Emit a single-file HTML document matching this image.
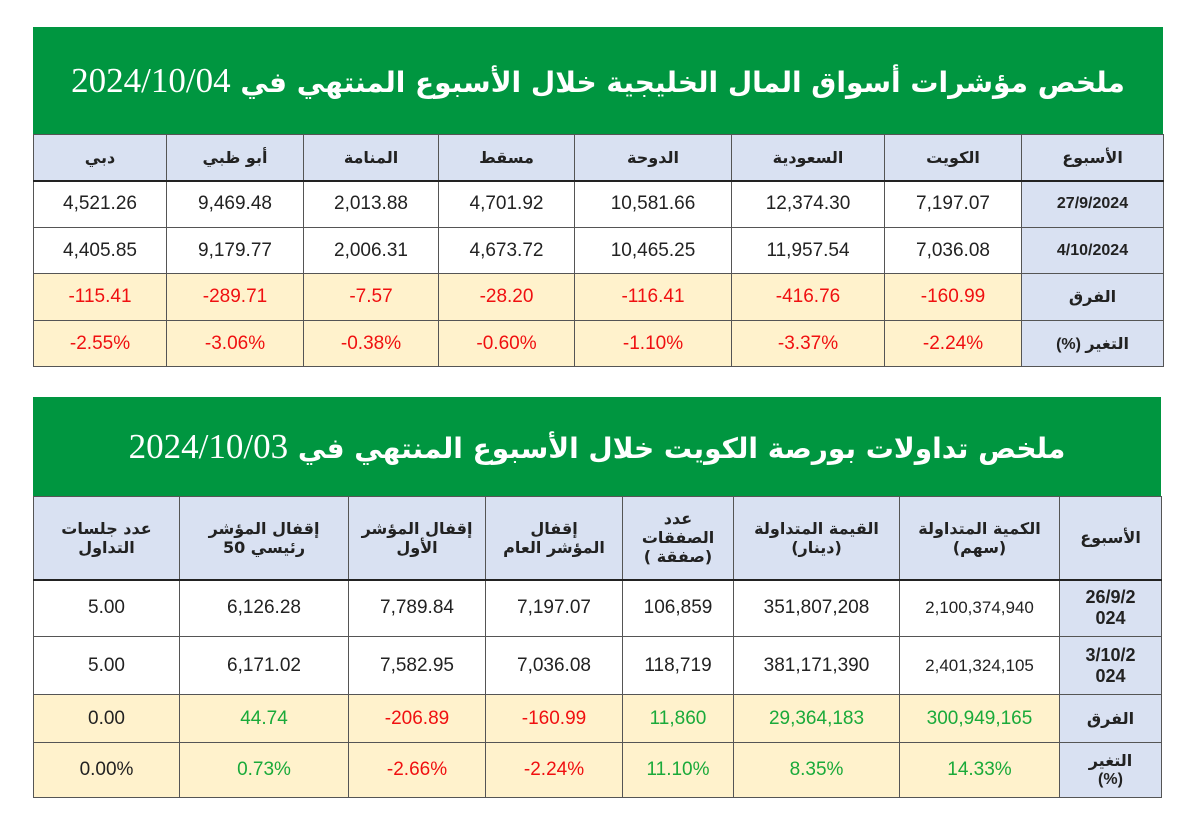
<!DOCTYPE html>
<html><head><meta charset="utf-8"><style>
body{margin:0;width:1200px;height:814px;background:#fff;position:relative;overflow:hidden;font-family:"Liberation Sans","Noto Sans CJK SC","DejaVu Sans",sans-serif}
.t{position:absolute;border-collapse:collapse;table-layout:fixed}
.t td{border:1.5px solid #555;text-align:center;padding:0;color:#222;font-size:19px}
.g{position:absolute;background:#009640;color:#fff;font-size:28px;font-weight:bold;text-align:center;white-space:nowrap;font-family:"DejaVu Sans",sans-serif}
.g span{font-family:"Liberation Serif",serif;font-weight:normal;font-size:35px}
.h td{background:#d9e1f2;font-size:16px;font-weight:bold;font-family:"DejaVu Sans",sans-serif;border-bottom:2.5px solid #222}
.y td{background:#fff2cc}
td.lab{background:#d9e1f2;font-weight:bold;font-size:16px}
.r{color:#f01010!important}.gr{color:#1aaa3a!important}
</style></head><body>
<div class="g" style="left:33px;top:27px;width:1130px;height:107px;line-height:107px" dir="rtl">ملخص مؤشرات أسواق المال الخليجية خلال الأسبوع المنتهي في <span>2024/10/04</span></div>
<table class="t" style="left:33px;top:134px;width:1130px">
<colgroup><col style="width:133px"><col style="width:137px"><col style="width:135px"><col style="width:136px"><col style="width:157px"><col style="width:153px"><col style="width:137px"><col style="width:142px"></colgroup>
<tr class="h" style="height:46px"><td>دبي</td><td>أبو ظبي</td><td>المنامة</td><td>مسقط</td><td>الدوحة</td><td>السعودية</td><td>الكويت</td><td>الأسبوع</td></tr>
<tr style="height:47px"><td>4,521.26</td><td>9,469.48</td><td>2,013.88</td><td>4,701.92</td><td>10,581.66</td><td>12,374.30</td><td>7,197.07</td><td class="lab">27/9/2024</td></tr>
<tr style="height:46px"><td>4,405.85</td><td>9,179.77</td><td>2,006.31</td><td>4,673.72</td><td>10,465.25</td><td>11,957.54</td><td>7,036.08</td><td class="lab">4/10/2024</td></tr>
<tr class="y" style="height:47px"><td class="r">-115.41</td><td class="r">-289.71</td><td class="r">-7.57</td><td class="r">-28.20</td><td class="r">-116.41</td><td class="r">-416.76</td><td class="r">-160.99</td><td class="lab">الفرق</td></tr>
<tr class="y" style="height:46px"><td class="r">-2.55%</td><td class="r">-3.06%</td><td class="r">-0.38%</td><td class="r">-0.60%</td><td class="r">-1.10%</td><td class="r">-3.37%</td><td class="r">-2.24%</td><td class="lab" dir="rtl">التغير (%)</td></tr>
</table>
<div class="g" style="left:33px;top:397px;width:1128px;height:99px;line-height:99px" dir="rtl">ملخص تداولات بورصة الكويت خلال الأسبوع المنتهي في <span>2024/10/03</span></div>
<table class="t" style="left:33px;top:496px;width:1128px">
<colgroup><col style="width:146px"><col style="width:169px"><col style="width:137px"><col style="width:137px"><col style="width:111px"><col style="width:166px"><col style="width:160px"><col style="width:102px"></colgroup>
<tr class="h" style="height:83px"><td>عدد جلسات<br>التداول</td><td>إقفال المؤشر<br>رئيسي 50</td><td>إقفال المؤشر<br>الأول</td><td>إقفال<br>المؤشر العام</td><td>عدد<br>الصفقات<br>( صفقة)</td><td>القيمة المتداولة<br>(دينار)</td><td>الكمية المتداولة<br>(سهم)</td><td>الأسبوع</td></tr>
<tr style="height:57px"><td>5.00</td><td>6,126.28</td><td>7,789.84</td><td>7,197.07</td><td>106,859</td><td>351,807,208</td><td style="font-size:17px">2,100,374,940</td><td class="lab" style="font-size:18px">26/9/2<br>024</td></tr>
<tr style="height:58px"><td>5.00</td><td>6,171.02</td><td>7,582.95</td><td>7,036.08</td><td>118,719</td><td>381,171,390</td><td style="font-size:17px">2,401,324,105</td><td class="lab" style="font-size:18px">3/10/2<br>024</td></tr>
<tr class="y" style="height:48px"><td>0.00</td><td class="gr">44.74</td><td class="r">-206.89</td><td class="r">-160.99</td><td class="gr">11,860</td><td class="gr">29,364,183</td><td class="gr">300,949,165</td><td class="lab">الفرق</td></tr>
<tr class="y" style="height:55px"><td>0.00%</td><td class="gr">0.73%</td><td class="r">-2.66%</td><td class="r">-2.24%</td><td class="gr">11.10%</td><td class="gr">8.35%</td><td class="gr">14.33%</td><td class="lab">التغير<br>(%)</td></tr>
</table>
</body></html>
